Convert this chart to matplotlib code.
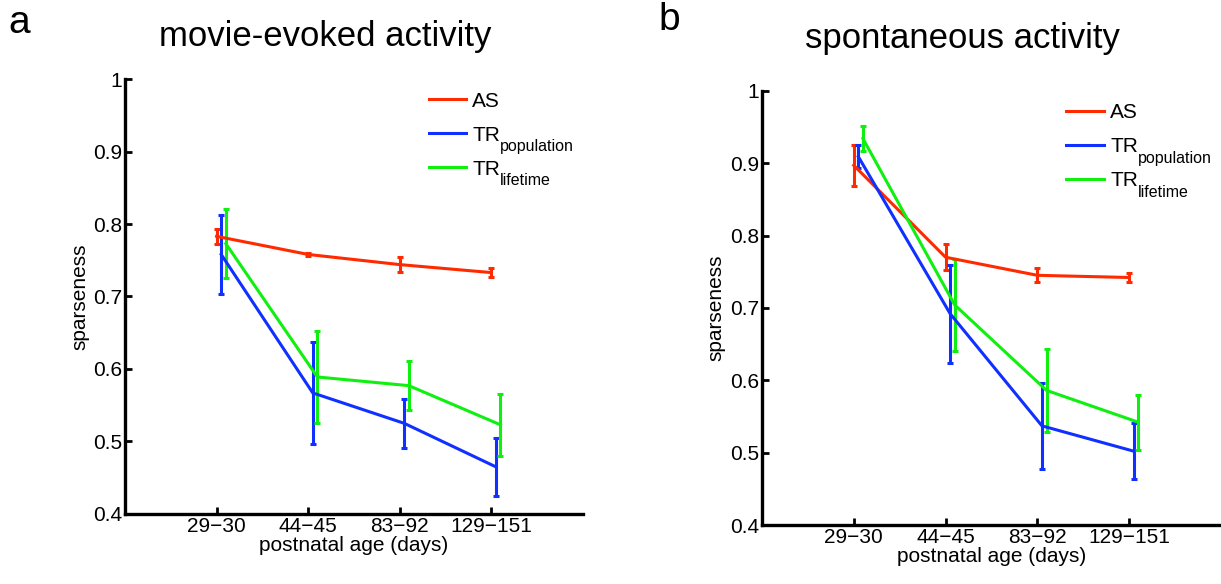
import matplotlib
matplotlib.use("Agg")
import matplotlib.pyplot as plt
from matplotlib.lines import Line2D
import numpy as np

plt.rcParams["font.family"] = ["Liberation Sans", "DejaVu Sans"]
plt.rcParams["axes.unicode_minus"] = True

# --- データ ---
age_labels = ["29\u221230", "44\u221245", "83\u221292", "129\u2212151"]
series_names = ["AS", "TR", "TR"]
series_subs = ["", "population", "lifetime"]

movie_as = [0.783, 0.758, 0.744, 0.733]
movie_as_err = [0.010, 0.002, 0.010, 0.0065]
movie_pop = [0.758, 0.567, 0.525, 0.465]
movie_pop_err = [0.055, 0.070, 0.034, 0.040]
movie_life = [0.773, 0.589, 0.577, 0.523]
movie_life_err = [0.048, 0.063, 0.034, 0.043]

spont_as = [0.897, 0.770, 0.745, 0.742]
spont_as_err = [0.028, 0.018, 0.0095, 0.0065]
spont_pop = [0.909, 0.692, 0.537, 0.502]
spont_pop_err = [0.016, 0.0675, 0.059, 0.039]
spont_life = [0.934, 0.704, 0.586, 0.542]
spont_life_err = [0.0175, 0.063, 0.0575, 0.038]

RED = "#ff2a00"
BLUE = "#1030ff"
GREEN = "#10f010"
COLORS = [RED, BLUE, GREEN]
OFFSETS = [0.0, 0.05, 0.10]


def draw_panel(ax, data, title, title_pad):
    x = np.arange(1, len(age_labels) + 1)
    for (vals, errs), col, off in zip(data, COLORS, OFFSETS):
        ax.errorbar(x + off, vals, yerr=errs, color=col, linewidth=2.2,
                    elinewidth=2.2, capsize=2.5, capthick=2.2)

    ax.set_xlim(0, 5)
    ax.set_ylim(0.4, 1.0)
    ax.set_xticks(x)
    ax.set_xticklabels(age_labels, fontsize=15)
    yt = np.round(np.arange(0.4, 1.01, 0.1), 1)
    ax.set_yticks(yt)
    ax.set_yticklabels([("1" if v == 1.0 else f"{v:.1f}") for v in yt],
                       fontsize=15)
    ax.tick_params(direction="in", length=5, width=2, pad=2)
    for s in ["top", "right"]:
        ax.spines[s].set_visible(False)
    for s in ["left", "bottom"]:
        ax.spines[s].set_linewidth(2.4)
    ax.set_xlabel("postnatal age (days)", fontsize=15, labelpad=0)
    ax.set_ylabel("sparseness", fontsize=15, labelpad=3)
    ax.set_title(title, fontsize=25, x=0.437, pad=title_pad)

    # 凡例（下付き文字は別テキストで大きめに）
    handles = [Line2D([], [], color=c, linewidth=2.2) for c in COLORS]
    leg = ax.legend(handles, series_names, loc="upper left",
                    bbox_to_anchor=(0.645, 0.99), frameon=False,
                    fontsize=15, handlelength=1.8, handletextpad=0.3,
                    labelspacing=0.72, borderaxespad=0.0)
    for txt, sub in zip(leg.get_texts(), series_subs):
        if sub:
            ax.annotate(sub, xy=(1, 0), xycoords=txt, xytext=(0, 4),
                        textcoords="offset points", fontsize=11.5,
                        ha="left", va="top", zorder=10)


fig = plt.figure(figsize=(12.21, 5.84), dpi=100)
ax1 = fig.add_axes([0.1024, 0.1199, 0.375, 0.7448])
ax2 = fig.add_axes([0.624, 0.101, 0.376, 0.7436])

draw_panel(ax1, [(movie_as, movie_as_err), (movie_pop, movie_pop_err),
                 (movie_life, movie_life_err)], "movie-evoked activity", 24)
draw_panel(ax2, [(spont_as, spont_as_err), (spont_pop, spont_pop_err),
                 (spont_life, spont_life_err)], "spontaneous activity", 31)

fig.text(0.007, 0.96, "a", fontsize=28, va="center")
fig.text(0.539, 0.965, "b", fontsize=28, va="center")

fig.savefig("out.png", dpi=100)
plt.close(fig)
